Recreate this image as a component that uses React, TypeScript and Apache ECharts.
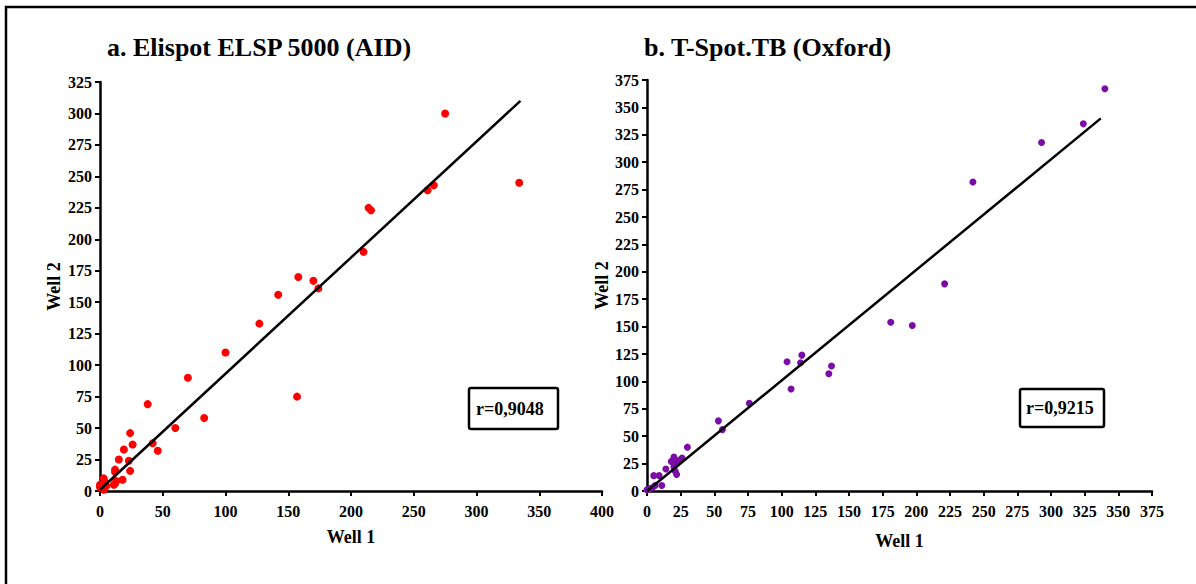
import React, { useEffect, useRef } from "react";
import * as echarts from "echarts";

// Panel a: Elispot ELSP 5000 (AID) — [Well 1, Well 2]
const elispotPoints: number[][] = [
  [275, 300], [334, 245], [261, 239], [266, 243], [214, 225], [216, 223],
  [210, 190], [158, 170], [170, 167], [174, 161], [142, 156], [127, 133],
  [100, 110], [70, 90], [157, 75], [38, 69], [83, 58], [60, 50], [24, 46],
  [42, 38], [26, 37], [46, 32], [19, 33], [15, 25], [23, 24], [24, 16],
  [12, 17], [12, 15], [18, 9], [12, 6], [11, 5], [13, 8], [3, 10], [0, 3],
  [5, 4], [3, 1], [0, 5], [4, 7],
];
const elispotFit: number[][] = [[0, 1], [335, 310]];
const elispotR = "r=0,9048";

// Panel b: T-Spot.TB (Oxford) — [Well 1, Well 2]
const tspotPoints: number[][] = [
  [340, 367], [324, 335], [293, 318], [242, 282], [221, 189], [181, 154],
  [197, 151], [115, 124], [104, 118], [114, 117], [137, 114], [135, 107],
  [107, 93], [76, 80], [53, 64], [56, 56], [30, 40], [20, 31], [26, 30],
  [18, 27], [22, 27], [14, 20], [20, 22], [21, 18], [22, 15], [24, 28],
  [5, 14], [9, 14], [11, 5], [6, 5], [4, 3], [0, 1], [2, 2],
];
const tspotFit: number[][] = [[0, 0], [337, 340]];
const tspotR = "r=0,9215";

const titleA = "a. Elispot ELSP 5000 (AID)";
const titleB = "b. T-Spot.TB (Oxford)";
const xName = "Well 1";
const yName = "Well 2";

const FONT = "Liberation Serif";

function axisCommon(min: number, max: number, interval: number, name: string, gap: number, margin: number) {
  return {
    type: "value",
    min,
    max,
    interval,
    name,
    nameLocation: "middle",
    nameGap: gap,
    nameTextStyle: { fontFamily: FONT, fontWeight: "bold", fontSize: 18, color: "#000" },
    axisLine: { show: true, lineStyle: { color: "#000", width: 2.5 } },
    axisTick: { show: true, length: 5, lineStyle: { color: "#000", width: 2 } },
    axisLabel: { interval: 0, margin, fontFamily: FONT, fontWeight: "bold", fontSize: 16, color: "#000" },
    splitLine: { show: false },
  };
}

export default function App() {
  const ref = useRef<HTMLDivElement>(null);
  useEffect(() => {
    if (!ref.current) return;
    const chart = echarts.init(ref.current, null, { renderer: "svg" });
    chart.setOption({
      animation: false,
      backgroundColor: "#fff",
      textStyle: { fontFamily: FONT },
      grid: [
        { left: 100, top: 82, width: 502, height: 409, outerBoundsMode: "none" },
        { left: 647, top: 80, width: 505, height: 411, outerBoundsMode: "none" },
      ],
      xAxis: [
        { ...axisCommon(0, 400, 50, xName, 37, 12), gridIndex: 0 },
        { ...axisCommon(0, 375, 25, xName, 41, 12), gridIndex: 1 },
      ],
      yAxis: [
        { ...axisCommon(0, 325, 25, yName, 37, 8), gridIndex: 0 },
        { ...axisCommon(0, 375, 25, yName, 36, 8), gridIndex: 1 },
      ],
      series: [
        {
          type: "scatter",
          xAxisIndex: 0,
          yAxisIndex: 0,
          data: elispotPoints,
          symbolSize: 8,
          itemStyle: { color: "#ff0000", opacity: 1 },
          clip: false,
          z: 2,
        },
        {
          type: "line",
          xAxisIndex: 0,
          yAxisIndex: 0,
          data: elispotFit,
          showSymbol: false,
          symbol: "none",
          lineStyle: { color: "#000", width: 2.5 },
          z: 3,
        },
        {
          type: "scatter",
          xAxisIndex: 1,
          yAxisIndex: 1,
          data: tspotPoints,
          symbolSize: 7,
          itemStyle: { color: "#7a0da6", opacity: 1 },
          clip: false,
          z: 2,
        },
        {
          type: "line",
          xAxisIndex: 1,
          yAxisIndex: 1,
          data: tspotFit,
          showSymbol: false,
          symbol: "none",
          lineStyle: { color: "#000", width: 2.5 },
          z: 3,
        },
      ],
      graphic: [
        {
          type: "rect",
          shape: { x: 6, y: 7, width: 1400, height: 800 },
          style: { fill: "none", stroke: "#000", lineWidth: 2.5 },
          silent: true,
        },
        {
          type: "text",
          x: 107,
          y: 47,
          style: { text: titleA, fontFamily: FONT, fontWeight: "bold", fontSize: 26, fill: "#000", textVerticalAlign: "middle" },
        },
        {
          type: "text",
          x: 644,
          y: 47,
          style: { text: titleB, fontFamily: FONT, fontWeight: "bold", fontSize: 26, fill: "#000", textVerticalAlign: "middle" },
        },
        {
          type: "rect",
          shape: { x: 469, y: 388, width: 89, height: 41, r: 2 },
          style: { fill: "#fff", stroke: "#000", lineWidth: 2.5 },
        },
        {
          type: "text",
          x: 476,
          y: 409,
          style: { text: elispotR, fontFamily: FONT, fontWeight: "bold", fontSize: 18, fill: "#000", textVerticalAlign: "middle" },
        },
        {
          type: "rect",
          shape: { x: 1020, y: 389, width: 84, height: 38, r: 2 },
          style: { fill: "#fff", stroke: "#000", lineWidth: 2.5 },
        },
        {
          type: "text",
          x: 1026,
          y: 408,
          style: { text: tspotR, fontFamily: FONT, fontWeight: "bold", fontSize: 18, fill: "#000", textVerticalAlign: "middle" },
        },
      ],
    });
    return () => chart.dispose();
  }, []);
  return (
    <div
      ref={ref}
      style={{ position: "fixed", left: 0, top: 0, width: 1196, height: 584 }}
    />
  );
}
